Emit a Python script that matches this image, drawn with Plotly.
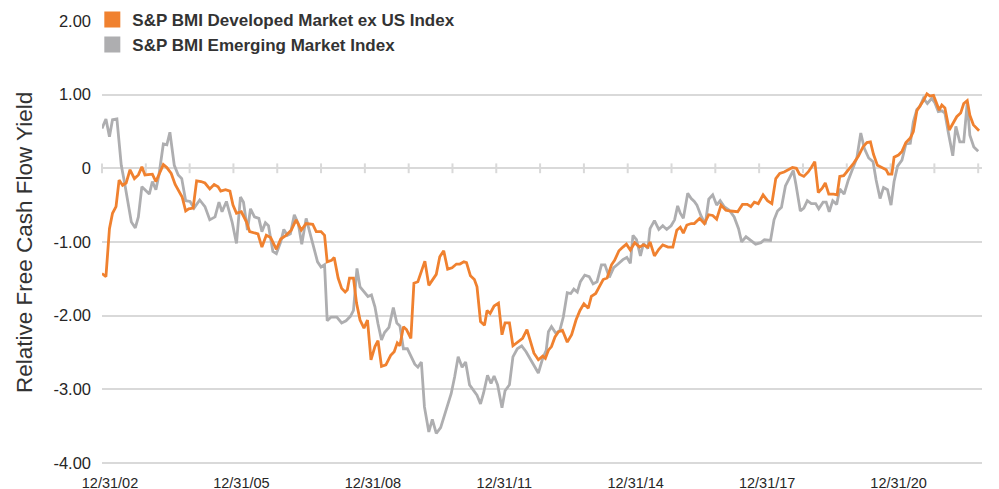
import plotly.graph_objects as go

# ---------------- data ----------------
series_names = ["S&P BMI Developed Market ex US Index", "S&P BMI Emerging Market Index"]

dev_years = [2003.00, 2003.09, 2003.17, 2003.24, 2003.32, 2003.39, 2003.47, 2003.55, 2003.64, 2003.74,
             2003.83, 2003.91, 2003.98, 2004.08, 2004.15, 2004.23, 2004.30, 2004.40, 2004.48, 2004.58,
             2004.67, 2004.76, 2004.83, 2004.91, 2004.98, 2005.08, 2005.16, 2005.26, 2005.35, 2005.46,
             2005.56, 2005.65, 2005.71, 2005.82, 2005.92, 2005.99, 2006.07, 2006.18, 2006.30, 2006.37,
             2006.56, 2006.65, 2006.75, 2006.85, 2006.98, 2007.08, 2007.20, 2007.32, 2007.43, 2007.55,
             2007.66, 2007.81, 2007.89, 2008.00, 2008.08, 2008.14, 2008.24, 2008.30, 2008.39, 2008.47,
             2008.55, 2008.60, 2008.65, 2008.74, 2008.81, 2008.89, 2008.98, 2009.06, 2009.14, 2009.23,
             2009.30, 2009.38, 2009.48, 2009.59, 2009.67, 2009.74, 2009.80, 2009.88, 2009.95, 2010.05,
             2010.12, 2010.21, 2010.29, 2010.37, 2010.46, 2010.54, 2010.63, 2010.71, 2010.80, 2010.89,
             2010.99, 2011.09, 2011.17, 2011.26, 2011.32, 2011.41, 2011.50, 2011.56, 2011.64, 2011.73,
             2011.79, 2011.86, 2011.95, 2012.05, 2012.13, 2012.20, 2012.30, 2012.38, 2012.48, 2012.60,
             2012.70, 2012.77, 2012.86, 2012.96, 2013.06, 2013.12, 2013.19, 2013.26, 2013.34, 2013.42,
             2013.51, 2013.62, 2013.72, 2013.82, 2013.91, 2014.00, 2014.10, 2014.17, 2014.27, 2014.35,
             2014.44, 2014.53, 2014.63, 2014.70, 2014.80, 2014.89, 2014.97, 2015.06, 2015.16, 2015.27,
             2015.36, 2015.46, 2015.51, 2015.61, 2015.71, 2015.80, 2015.92, 2016.03, 2016.12, 2016.20,
             2016.27, 2016.35, 2016.45, 2016.52, 2016.64, 2016.75, 2016.85, 2016.94, 2017.03, 2017.13,
             2017.24, 2017.35, 2017.51, 2017.62, 2017.73, 2017.81, 2017.89, 2017.98, 2018.09, 2018.19,
             2018.29, 2018.38, 2018.47, 2018.57, 2018.67, 2018.76, 2018.85, 2018.92, 2019.02, 2019.12,
             2019.20, 2019.27, 2019.35, 2019.44, 2019.51, 2019.59, 2019.70, 2019.78, 2019.84, 2019.93,
             2020.05, 2020.16, 2020.27, 2020.37, 2020.46, 2020.54, 2020.61, 2020.70, 2020.80, 2020.90,
             2020.95, 2021.03, 2021.08, 2021.18, 2021.26, 2021.35, 2021.45, 2021.52, 2021.60, 2021.67,
             2021.75, 2021.83, 2021.90, 2021.98, 2022.05, 2022.11, 2022.17, 2022.24, 2022.34, 2022.43,
             2022.51, 2022.60, 2022.67, 2022.75, 2022.81, 2022.89, 2023.02]

dev_values = [-1.43, -1.47, -0.82, -0.61, -0.52, -0.16, -0.23, -0.20, -0.02, -0.14,
              -0.09, 0.02, -0.09, -0.08, -0.08, -0.18, -0.09, 0.05, 0.01, -0.07,
              -0.22, -0.32, -0.39, -0.58, -0.55, -0.54, -0.17, -0.18, -0.20, -0.28,
              -0.22, -0.25, -0.31, -0.29, -0.31, -0.50, -0.61, -0.59, -0.73, -0.86,
              -0.89, -1.07, -0.91, -0.94, -1.10, -0.96, -0.91, -0.84, -0.70, -0.84,
              -0.75, -0.76, -0.86, -0.86, -0.91, -1.27, -1.25, -1.21, -1.49, -1.63,
              -1.68, -1.65, -1.49, -1.49, -1.83, -2.06, -2.17, -2.06, -2.60, -2.42,
              -2.34, -2.69, -2.67, -2.54, -2.49, -2.37, -2.41, -2.15, -2.19, -2.31,
              -1.56, -1.54, -1.40, -1.26, -1.59, -1.52, -1.44, -1.20, -1.12, -1.37,
              -1.35, -1.30, -1.30, -1.27, -1.28, -1.46, -1.51, -1.61, -2.08, -2.13,
              -1.93, -1.97, -1.87, -1.83, -2.26, -2.10, -2.10, -2.41, -2.36, -2.31,
              -2.19, -2.33, -2.51, -2.60, -2.55, -2.58, -2.47, -2.42, -2.29, -2.22,
              -2.20, -2.36, -2.26, -2.06, -1.93, -1.84, -1.90, -1.74, -1.70, -1.61,
              -1.51, -1.49, -1.31, -1.25, -1.12, -1.07, -1.03, -1.11, -1.01, -1.07,
              -1.04, -1.07, -1.00, -1.19, -1.10, -1.04, -1.07, -1.07, -0.84, -0.80,
              -0.88, -0.77, -0.75, -0.75, -0.68, -0.75, -0.63, -0.64, -0.69, -0.50,
              -0.57, -0.58, -0.59, -0.49, -0.49, -0.52, -0.46, -0.48, -0.36, -0.44,
              -0.48, -0.14, -0.07, -0.05, -0.02, 0.01, 0.00, -0.08, -0.11, -0.05,
              0.02, 0.09, -0.33, -0.27, -0.20, -0.35, -0.35, -0.36, -0.11, -0.10,
              -0.01, 0.07, 0.17, 0.29, 0.35, 0.36, 0.19, 0.04, 0.01, -0.02,
              -0.08, -0.08, 0.15, 0.18, 0.23, 0.35, 0.41, 0.50, 0.78, 0.84,
              0.92, 1.01, 0.98, 0.99, 0.88, 0.79, 0.86, 0.82, 0.52, 0.61,
              0.70, 0.75, 0.88, 0.92, 0.72, 0.59, 0.51]

em_years = [2003.00, 2003.09, 2003.17, 2003.24, 2003.34, 2003.39, 2003.44, 2003.51, 2003.59, 2003.67,
            2003.76, 2003.83, 2003.91, 2004.00, 2004.08, 2004.15, 2004.23, 2004.30, 2004.40, 2004.48,
            2004.55, 2004.65, 2004.74, 2004.82, 2004.91, 2005.01, 2005.10, 2005.23, 2005.35, 2005.46,
            2005.58, 2005.67, 2005.74, 2005.84, 2005.97, 2006.07, 2006.16, 2006.23, 2006.32, 2006.39,
            2006.48, 2006.58, 2006.65, 2006.73, 2006.80, 2006.90, 2006.98, 2007.08, 2007.15, 2007.23,
            2007.30, 2007.39, 2007.48, 2007.56, 2007.66, 2007.77, 2007.85, 2007.92, 2008.00, 2008.08,
            2008.14, 2008.23, 2008.36, 2008.47, 2008.57, 2008.67, 2008.74, 2008.82, 2008.89, 2009.00,
            2009.07, 2009.15, 2009.23, 2009.30, 2009.38, 2009.45, 2009.55, 2009.65, 2009.73, 2009.80,
            2009.88, 2009.97, 2010.05, 2010.14, 2010.21, 2010.29, 2010.36, 2010.46, 2010.54, 2010.63,
            2010.73, 2010.86, 2010.97, 2011.05, 2011.13, 2011.22, 2011.30, 2011.39, 2011.48, 2011.56,
            2011.64, 2011.71, 2011.80, 2011.88, 2011.95, 2012.03, 2012.13, 2012.20, 2012.30, 2012.38,
            2012.48, 2012.58, 2012.68, 2012.77, 2012.89, 2012.96, 2013.06, 2013.14, 2013.19, 2013.26,
            2013.36, 2013.45, 2013.53, 2013.62, 2013.70, 2013.77, 2013.85, 2013.92, 2014.02, 2014.12,
            2014.21, 2014.30, 2014.40, 2014.48, 2014.58, 2014.68, 2014.78, 2014.89, 2014.98, 2015.06,
            2015.12, 2015.20, 2015.29, 2015.36, 2015.46, 2015.51, 2015.61, 2015.71, 2015.80, 2015.89,
            2015.99, 2016.07, 2016.14, 2016.20, 2016.27, 2016.37, 2016.45, 2016.52, 2016.58, 2016.67,
            2016.77, 2016.85, 2016.94, 2017.03, 2017.11, 2017.20, 2017.32, 2017.43, 2017.53, 2017.60,
            2017.70, 2017.79, 2017.92, 2018.04, 2018.12, 2018.26, 2018.34, 2018.42, 2018.51, 2018.60,
            2018.68, 2018.78, 2018.84, 2018.94, 2019.02, 2019.10, 2019.19, 2019.29, 2019.36, 2019.46,
            2019.53, 2019.60, 2019.68, 2019.77, 2019.84, 2019.94, 2020.03, 2020.16, 2020.23, 2020.32,
            2020.40, 2020.50, 2020.60, 2020.67, 2020.76, 2020.84, 2020.93, 2021.01, 2021.08, 2021.16,
            2021.26, 2021.35, 2021.45, 2021.52, 2021.60, 2021.67, 2021.75, 2021.84, 2021.94, 2022.01,
            2022.09, 2022.17, 2022.24, 2022.32, 2022.42, 2022.49, 2022.58, 2022.67, 2022.75, 2022.81,
            2022.90, 2023.00]

em_values = [0.54, 0.67, 0.43, 0.66, 0.67, 0.32, 0.04, -0.18, -0.43, -0.73,
             -0.81, -0.66, -0.25, -0.31, -0.35, -0.18, -0.29, -0.09, 0.33, 0.32,
             0.49, 0.04, -0.09, -0.14, -0.44, -0.45, -0.54, -0.43, -0.52, -0.70,
             -0.66, -0.46, -0.59, -0.45, -0.73, -1.02, -0.39, -0.46, -0.84, -0.55,
             -0.66, -0.68, -0.86, -0.74, -0.78, -1.13, -1.16, -1.00, -0.83, -0.91,
             -0.89, -0.63, -0.75, -1.03, -0.68, -0.93, -1.11, -1.27, -1.34, -1.31,
             -2.07, -2.02, -2.02, -2.10, -2.07, -2.01, -1.93, -1.36, -1.61, -1.69,
             -1.74, -1.72, -1.88, -2.11, -2.33, -2.23, -2.16, -1.89, -2.10, -2.14,
             -2.45, -2.45, -2.54, -2.66, -2.70, -2.63, -3.24, -3.58, -3.41, -3.60,
             -3.52, -3.28, -3.06, -2.83, -2.56, -2.70, -2.63, -2.94, -3.01, -3.08,
             -3.20, -3.05, -2.81, -2.92, -2.82, -2.94, -3.25, -3.02, -2.94, -2.56,
             -2.45, -2.41, -2.49, -2.58, -2.70, -2.78, -2.58, -2.47, -2.22, -2.15,
             -2.24, -2.20, -2.02, -1.69, -1.70, -1.64, -1.68, -1.54, -1.45, -1.47,
             -1.57, -1.54, -1.31, -1.31, -1.48, -1.35, -1.30, -1.24, -1.21, -1.29,
             -0.91, -0.97, -1.19, -1.02, -1.09, -0.82, -0.71, -0.83, -0.78, -0.83,
             -0.78, -0.70, -0.51, -0.61, -0.68, -0.34, -0.41, -0.45, -0.50, -0.64,
             -0.76, -0.42, -0.36, -0.50, -0.44, -0.52, -0.57, -0.66, -0.82, -1.00,
             -0.93, -0.97, -1.03, -1.01, -0.97, -0.98, -0.70, -0.58, -0.53, -0.24,
             -0.14, -0.03, -0.22, -0.58, -0.54, -0.44, -0.48, -0.48, -0.55, -0.46,
             -0.46, -0.59, -0.44, -0.49, -0.28, -0.35, -0.17, 0.04, 0.14, 0.48,
             0.27, 0.14, 0.09, -0.16, -0.41, -0.26, -0.29, -0.50, -0.18, 0.03,
             0.11, 0.33, 0.34, 0.63, 0.80, 0.84, 0.95, 0.88, 0.95, 0.89,
             0.77, 0.78, 0.75, 0.48, 0.17, 0.57, 0.36, 0.36, 0.89, 0.45,
             0.29, 0.23]

tick_years = list(range(2003, 2024))
label_years = [2003, 2006, 2009, 2012, 2015, 2018, 2021]
x_tick_labels = ["12/31/02", "12/31/05", "12/31/08", "12/31/11", "12/31/14", "12/31/17", "12/31/20"]
y_grid_vals = [-4, -3, -2, -1, 0, 1]
y_grid_labels = ["-4.00", "-3.00", "-2.00", "-1.00", "0", "1.00"]
y_top_val = [2]
y_top_label = ["2.00"]
y_title = "Relative Free Cash Flow Yield"

# ---------------- styling ----------------
ORANGE = "#F0812F"
GRAY = "#AEAEB0"
GRID = "#D9D9D9"
TEXT = "#262626"
FONT = "Liberation Sans, Arial, sans-serif"
Y_RANGE = [-4.015, 2.0]

fig = go.Figure()

# small tick marks sitting on the zero line (one per year)
fig.add_trace(go.Scatter(
    x=tick_years, y=[0] * len(tick_years), mode="markers",
    marker=dict(symbol="line-ns", size=7, color=GRID, line=dict(color=GRID, width=2)),
    showlegend=False, hoverinfo="skip", cliponaxis=False))

fig.add_trace(go.Scatter(
    x=em_years, y=em_values, mode="lines", name=series_names[1],
    line=dict(color=GRAY, width=2.8), showlegend=False))
fig.add_trace(go.Scatter(
    x=dev_years, y=dev_values, mode="lines", name=series_names[0],
    line=dict(color=ORANGE, width=2.8), showlegend=False))

# legend entries as filled squares (attached to the second y axis so it renders)
for nm, col in zip(series_names, [ORANGE, GRAY]):
    fig.add_trace(go.Scatter(
        x=[None], y=[None], mode="markers", name=nm, yaxis="y2",
        marker=dict(symbol="square", size=17, color=col)))

# the page body adds an 8px offset, so the figure is 8px smaller than the window
fig.update_layout(
    width=991, height=481,
    margin=dict(l=94, r=17, t=13, b=25, autoexpand=False),
    paper_bgcolor="white", plot_bgcolor="white",
    font=dict(family=FONT, color=TEXT, size=15),
    legend=dict(
        x=-0.011, y=1.043, xanchor="left", yanchor="top",
        bgcolor="rgba(255,255,255,0)",
        font=dict(family=FONT, size=17, color="#333333", weight="bold"),
        tracegroupgap=0, itemwidth=30,
    ),
    xaxis=dict(
        range=[2003.0, 2023.087],
        tickmode="array", tickvals=label_years, ticktext=x_tick_labels,
        ticklabelshift=8, ticklabelstandoff=8,
        showgrid=False, zeroline=False, showline=False, ticks="",
        tickfont=dict(family=FONT, size=14.5, color=TEXT),
    ),
    yaxis=dict(
        range=Y_RANGE,
        tickmode="array", tickvals=y_grid_vals, ticktext=y_grid_labels,
        showgrid=True, gridcolor=GRID, gridwidth=2,
        zeroline=True, zerolinecolor=GRID, zerolinewidth=2,
        showline=False, ticks="", ticklabelstandoff=10,
        tickfont=dict(family=FONT, size=16.5, color=TEXT),
    ),
    yaxis2=dict(
        range=Y_RANGE, overlaying="y", side="left", anchor="x",
        tickmode="array", tickvals=y_top_val, ticktext=y_top_label,
        showgrid=False, zeroline=False, showline=False, ticks="",
        ticklabelstandoff=10, showticklabels=True,
        tickfont=dict(family=FONT, size=16.5, color=TEXT),
    ),
    annotations=[dict(
        text=y_title, xref="paper", yref="paper",
        x=-0.088, y=0.5, xanchor="center", yanchor="middle",
        textangle=-90, showarrow=False,
        font=dict(family=FONT, size=22.5, color="#333333"),
    )],
)

fig.write_html("out.html")
